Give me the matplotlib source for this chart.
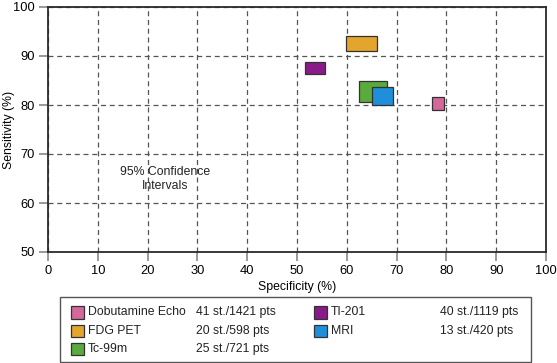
import numpy as np
from matplotlib import pyplot as plt
from matplotlib.patches import Rectangle

plt.rcParams['font.family'] = ['Liberation Sans', 'DejaVu Sans']

# 95% confidence regions (specificity x, sensitivity y), in %
names = ['Dobutamine Echo', 'FDG PET', 'Tc-99m', 'TI-201', 'MRI']
counts = ['41 st./1421 pts', '20 st./598 pts', '25 st./721 pts', '40 st./1119 pts', '13 st./420 pts']
spec_lo = [77.1, 59.8, 62.4, 51.7, 65.0]
spec_hi = [79.5, 66.0, 68.0, 55.6, 69.2]
sens_lo = [79.0, 91.0, 80.7, 86.3, 79.9]
sens_hi = [81.6, 94.1, 84.8, 88.8, 83.6]
colors = ['#d4689a', '#e3a52e', '#5aab3e', '#8a1a8a', '#1e8fd8']

xticks = np.arange(0, 101, 10)
yticks = np.arange(50, 101, 10)

W, H = 557, 363
FS = 8.8
fig = plt.figure(figsize=(W/100, H/100), dpi=100)
ax = fig.add_axes([48/W, 1-252/H, (546-48)/W, (252-7)/H])

ax.set_xlim(0, 100)
ax.set_ylim(50, 100)
ax.set_xticks(xticks)
ax.set_yticks(yticks)
ax.grid(True, linestyle=(0, (4, 3)), color='#555555', linewidth=0.9)
ax.set_axisbelow(True)
ax.tick_params(direction='out', length=6.3, width=1.2, color='#888888', labelsize=9.3, pad=3)
for s in ax.spines.values():
    s.set_color('#2a2a2a')
    s.set_linewidth(1.3)

sl = np.array(spec_lo)
sh = np.array(spec_hi)
el = np.array(sens_lo)
eh = np.array(sens_hi)
for i in range(len(names)):
    ax.bar(sl[i], eh[i]-el[i], width=sh[i]-sl[i], bottom=el[i], align='edge',
           color=colors[i], edgecolor='#333333', linewidth=0.9, zorder=3+i)

ax.text(23.5, 64.9, '95% Confidence\nIntervals', ha='center', va='center',
        fontsize=FS, linespacing=1.2, color='#222222')

ax.set_xlabel('Specificity (%)', fontsize=FS)
ax.set_ylabel('Sensitivity (%)', fontsize=FS)
ax.xaxis.set_label_coords((297-48)/498, -(287-252)/245, transform=ax.transAxes)
ax.yaxis.set_label_coords(-(48-9)/498, 0.5, transform=ax.transAxes)
ax.xaxis.label.set_va('center')
ax.yaxis.label.set_va('center')

# legend box drawn in figure pixels
def fx(px):
    return px / W

def fy(py):
    return 1 - py / H

fig.patches.append(Rectangle((fx(60), fy(361.5)), fx(531)-fx(60), fy(297)-fy(361.5),
                             transform=fig.transFigure, fc='white', ec='#555555', lw=1.0))
rows_y = [312.3, 330.7, 348.7, 312.3, 330.7]
sw_x = [71, 71, 71, 314, 314]
name_x = [88, 88, 88, 331, 331]
cnt_x = [196.5, 196.5, 196.5, 440, 440]
for i in range(len(names)):
    y = rows_y[i]
    fig.patches.append(Rectangle((fx(sw_x[i]), fy(y+6.3)), fx(12.5), 12.5/H,
                                 transform=fig.transFigure, fc=colors[i], ec='#333333', lw=0.9))
    fig.text(fx(name_x[i]), fy(y), names[i], ha='left', va='center', fontsize=FS, color='#222222')
    fig.text(fx(cnt_x[i]), fy(y), counts[i], ha='left', va='center', fontsize=FS, color='#222222')

fig.savefig('out.png', dpi=100)
